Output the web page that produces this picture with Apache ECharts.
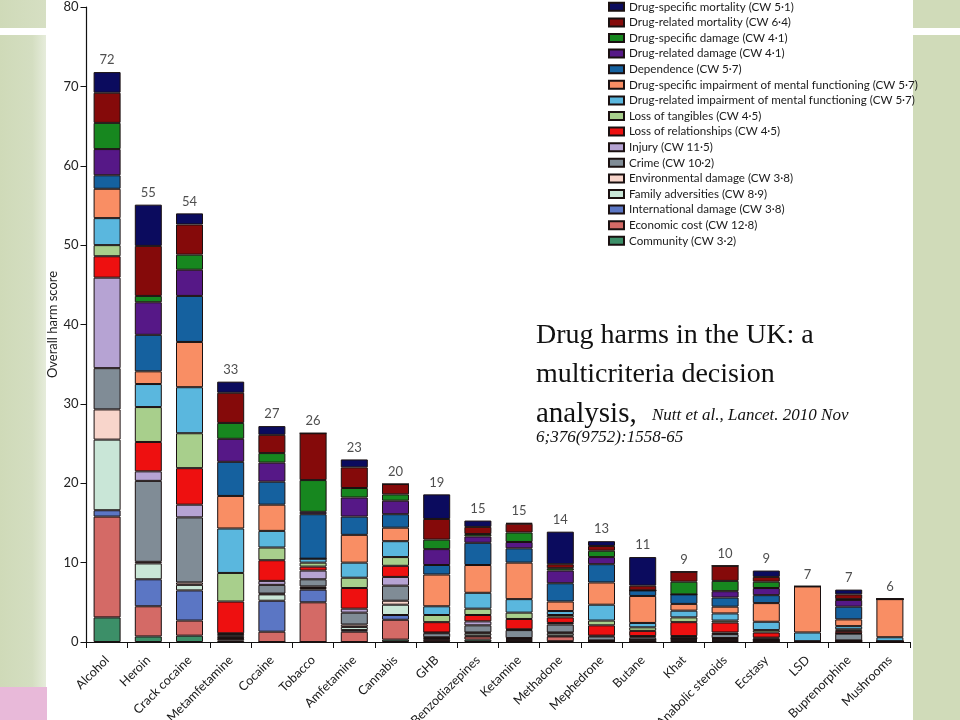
<!DOCTYPE html>
<html><head><meta charset="utf-8">
<script src="https://cdn.jsdelivr.net/npm/echarts@6/dist/echarts.min.js"></script>
<style>html,body{margin:0;padding:0;background:#fff}#c{width:960px;height:720px}</style>
</head><body><div id="c"></div>
<script>
const categories = ['Alcohol','Heroin','Crack cocaine','Metamfetamine','Cocaine','Tobacco','Amfetamine','Cannabis','GHB','Benzodiazepines','Ketamine','Methadone','Mephedrone','Butane','Khat','Anabolic steroids','Ecstasy','LSD','Buprenorphine','Mushrooms'];
const totalLabels = [72,55,54,33,27,26,23,20,19,15,15,14,13,11,9,10,9,7,7,6];
const yTicks = [0,10,20,30,40,50,60,70,80];

// criteria, bottom of stack first
const community         = [3.1,0.7,0.8,0.2,0,0,0,0.3,0.1,0.3,0.1,0.1,0,0,0.1,0.1,0,0,0,0];
const economicCost      = [12.7,3.8,1.9,0.2,1.3,5.0,1.3,2.5,0.2,0.4,0.1,0.6,0.1,0.1,0.1,0.1,0.1,0,0.1,0.05];
const international     = [0.8,3.4,3.8,0.1,3.9,1.6,0.2,0.6,0.1,0.1,0.1,0.1,0,0,0.1,0.1,0.05,0,0,0];
const family            = [8.9,2.0,0.7,0.2,0.8,0.2,0.4,1.3,0.1,0.3,0.1,0.3,0.1,0.2,0.1,0.1,0.1,0,0.1,0];
const environmental     = [3.8,0.2,0.3,0.1,0.1,0.2,0.3,0.5,0.1,0.1,0.1,0.1,0,0,0.05,0.1,0,0,0,0];
const crime             = [5.2,10.2,8.2,0.2,1.1,0.9,1.5,1.9,0.5,0.9,1.0,1.0,0.5,0.3,0.2,0.5,0.2,0.1,0.85,0.05];
const injury            = [11.4,1.2,1.6,0.1,0.5,1.1,0.5,1.1,0.1,0.5,0.1,0.2,0.1,0.15,0.1,0.2,0.1,0,0.05,0];
const lossRelationships = [2.7,3.7,4.6,4.0,2.6,0.5,2.6,1.4,1.3,0.8,1.3,0.7,1.3,0.65,1.75,1.25,0.65,0,0.3,0];
const lossTangibles     = [1.4,4.4,4.4,3.6,1.6,0.5,1.3,1.1,0.9,0.8,0.8,0.3,0.6,0.45,0.6,0.25,0.3,0,0.2,0];
const drImpairment      = [3.4,2.9,5.8,5.6,2.1,0.5,1.9,2.0,1.1,2.0,1.7,0.5,2.0,0.55,0.85,0.9,1.05,1.1,0.4,0.5];
const dsImpairment      = [3.7,1.6,5.7,4.1,3.3,0,3.5,1.7,4.0,3.5,4.6,1.2,2.8,3.4,0.85,0.85,2.35,5.8,0.85,4.8];
const dependence        = [1.7,4.6,5.8,4.3,2.9,5.6,2.3,1.7,1.2,2.8,1.8,2.3,2.3,0.7,1.2,1.15,1.0,0,1.6,0];
const drDamage          = [3.3,4.1,3.3,2.9,2.4,0.3,2.4,1.7,2.0,0.8,0.8,1.6,0.9,0,0,0.8,0.9,0,0.85,0];
const dsDamage          = [3.3,0.8,1.9,2.0,1.2,4.0,1.2,0.8,1.2,0.3,1.2,0.3,0.8,0,1.6,1.3,0.8,0,0.1,0];
const drMortality       = [3.8,6.3,3.8,3.8,2.3,5.9,2.6,1.3,2.6,0.9,1.1,0.5,0.6,0.6,1.25,1.9,0.6,0,0.6,0];
const dsMortality       = [2.6,5.2,1.4,1.4,1.1,0,1.0,0,3.1,0.8,0.1,4.1,0.6,3.6,0,0,0.8,0,0.6,0];

const criteria = [
  ['Community (CW 3·2)', community, '#3c8f68'],
  ['Economic cost (CW 12·8)', economicCost, '#d46a66'],
  ['International damage (CW 3·8)', international, '#5b76c4'],
  ['Family adversities (CW 8·9)', family, '#c9e6d7'],
  ['Environmental damage (CW 3·8)', environmental, '#f8d5cb'],
  ['Crime (CW 10·2)', crime, '#808c96'],
  ['Injury (CW 11·5)', injury, '#b6a3d3'],
  ['Loss of relationships (CW 4·5)', lossRelationships, '#ee1010'],
  ['Loss of tangibles (CW 4·5)', lossTangibles, '#a8cf8c'],
  ['Drug-related impairment of mental functioning (CW 5·7)', drImpairment, '#5ab7de'],
  ['Drug-specific impairment of mental functioning (CW 5·7)', dsImpairment, '#f98e64'],
  ['Dependence (CW 5·7)', dependence, '#15619f'],
  ['Drug-related damage (CW 4·1)', drDamage, '#561887'],
  ['Drug-specific damage (CW 4·1)', dsDamage, '#17871f'],
  ['Drug-related mortality (CW 6·4)', drMortality, '#850a0a'],
  ['Drug-specific mortality (CW 5·1)', dsMortality, '#0b0b5e']
];

const FONT = 'Lato';
const series = criteria.map(([name, data, color]) => ({
  name, type: 'bar', stack: 'harm', data, barWidth: 27,
  itemStyle: { color, borderColor: '#1a1010', borderWidth: 1 },
  emphasis: { disabled: true }
}));
const sums = categories.map((_, i) => criteria.reduce((s, c) => s + c[1][i], 0));
series.push({
  type: 'scatter', data: sums, symbolSize: 1, itemStyle: { color: 'rgba(0,0,0,0)' },
  label: { show: true, position: 'top', distance: 5, fontFamily: FONT, fontSize: 13, color: '#222',
    formatter: p => String(totalLabels[p.dataIndex]) },
  z: 5
});

const chart = echarts.init(document.getElementById('c'), null, { renderer: 'canvas' });
chart.setOption({
  animation: false,
  backgroundColor: '#fff',
  grid: { left: 86.5, right: 49.5, top: 7, bottom: 78, containLabel: false, outerBoundsMode: 'none' },
  legend: {
    orient: 'vertical', left: 603, top: -6, itemWidth: 15, itemHeight: 8, itemGap: 0,
    icon: 'rect', selectedMode: false,
    data: criteria.map(c => c[0]).reverse(),
    textStyle: { fontFamily: FONT, fontSize: 11.6, color: '#1a1a1a', lineHeight: 15.6 }
  },
  xAxis: {
    type: 'category', data: categories,
    axisLine: { lineStyle: { color: '#111', width: 1.2 } },
    axisTick: { show: true, length: 6, lineStyle: { color: '#111' } },
    axisLabel: { rotate: 45, fontFamily: FONT, fontSize: 12.5, color: '#1a1a1a', margin: 16, interval: 0 }
  },
  yAxis: {
    type: 'value', min: 0, max: 80, interval: 10,
    name: 'Overall harm score', nameLocation: 'middle', nameRotate: 90, nameGap: 27, nameMoveOverlap: false,
    nameTextStyle: { fontFamily: FONT, fontSize: 13, color: '#222' },
    axisLine: { show: true, lineStyle: { color: '#111', width: 1.2 } },
    axisTick: { show: true, length: 6, lineStyle: { color: '#111' } },
    splitLine: { show: false },
    axisLabel: { fontFamily: FONT, fontSize: 13, color: '#222', margin: 8,
      formatter: v => yTicks.includes(v) ? String(v) : '' }
  },
  graphic: [
    { type: 'rect', z: -10, shape: { x: 0, y: 0, width: 46, height: 28 }, style: { fill: new echarts.graphic.LinearGradient(0,0,1,0,[{offset:0,color:'#cfdab8'},{offset:1,color:'#d6dfc3'}]) } },
    { type: 'rect', z: -10, shape: { x: 0, y: 35, width: 46, height: 652 }, style: { fill: new echarts.graphic.LinearGradient(0,0,1,0,[{offset:0,color:'#cfdab8'},{offset:0.7,color:'#d4dec1'},{offset:1,color:'#e6ecdb'}]) } },
    { type: 'rect', z: -10, shape: { x: 0, y: 687, width: 47, height: 33 }, style: { fill: '#e8b9d9' } },
    { type: 'rect', z: -10, shape: { x: 913, y: 0, width: 47, height: 28 }, style: { fill: '#d0dbb9' } },
    { type: 'rect', z: -10, shape: { x: 913, y: 35, width: 47, height: 685 }, style: { fill: '#d0dbb9' } },
    { type: 'text', left: 536, top: 322, style: { text: 'Drug harms in the UK: a', fontFamily: 'Liberation Serif', fontSize: 28, fill: '#111' } },
    { type: 'text', left: 536, top: 361, style: { text: 'multicriteria decision', fontFamily: 'Liberation Serif', fontSize: 28, fill: '#111' } },
    { type: 'text', left: 536, top: 400, style: { text: 'analysis,', fontFamily: 'Liberation Serif', fontSize: 29, fill: '#111' } },
    { type: 'text', left: 652, top: 407, style: { text: 'Nutt et al., Lancet. 2010 Nov', fontFamily: 'Liberation Serif', fontStyle: 'italic', fontSize: 17, fill: '#111' } },
    { type: 'text', left: 536, top: 429, style: { text: '6;376(9752):1558-65', fontFamily: 'Liberation Serif', fontStyle: 'italic', fontSize: 17, fill: '#111' } }
  ],
  series
});
</script></body></html>
